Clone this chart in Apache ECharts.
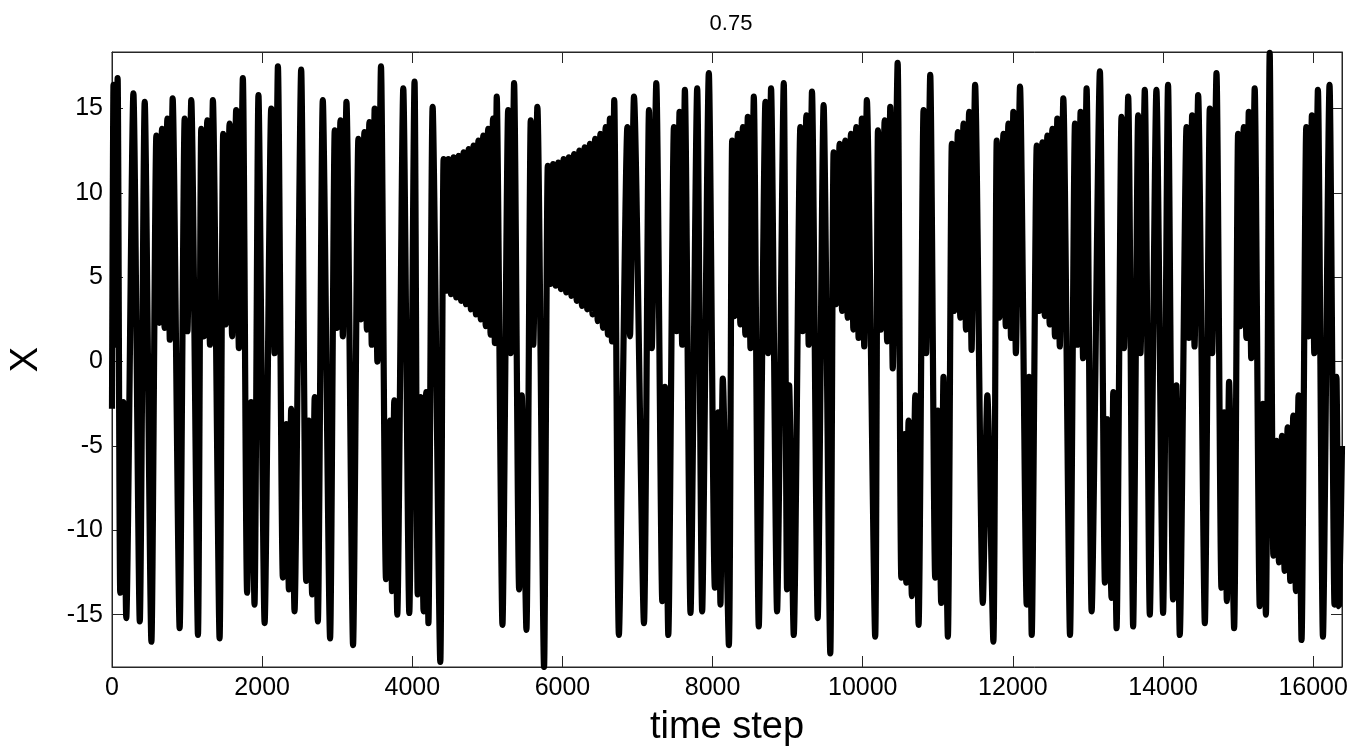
<!DOCTYPE html>
<html>
<head>
<meta charset="utf-8">
<script src="https://cdn.jsdelivr.net/npm/echarts@6.0.0/dist/echarts.min.js"></script>
<style>
  html, body { margin: 0; padding: 0; background: #fff; }
  #chart { width: 1357px; height: 754px; }
</style>
</head>
<body>
<div id="chart"></div>
<script>
// 标题与坐标轴
const chartTitle = '0.75';
const xName = 'time step';
const yName = 'X';
const xMax = 16384;

// 峰谷点：时间步
const timeSteps = [
  0, 20, 45, 75, 110, 150, 190, 285, 370, 436, 525,
  591, 630, 666, 700, 737, 770, 808, 901, 968, 1005, 1056, 1145,
  1189, 1225, 1269, 1305, 1344, 1433, 1481, 1515, 1566, 1600, 1654, 1690,
  1743, 1800, 1853, 1898, 1951, 2033, 2121, 2165, 2210, 2276, 2321, 2356,
  2387, 2431, 2520, 2587, 2622, 2666, 2700, 2742, 2808, 2905, 2967, 3000,
  3043, 3075, 3123, 3211, 3282, 3318, 3362, 3395, 3428, 3460, 3499, 3535,
  3583, 3650, 3703, 3730, 3760, 3800, 3880, 3960, 4030, 4072, 4110, 4150,
  4185, 4215, 4271, 4373,
  4417, 4450, 4480, 4515, 4550, 4585, 4617, 4650, 4683, 4715, 4750, 4780,
  4815, 4847, 4880, 4912, 4945, 4978, 5010, 5043, 5075, 5100, 5125, 5201,
  5277, 5310, 5356, 5423, 5458, 5520, 5578, 5612, 5666, 5755,
  5805, 5840, 5875, 5910, 5945, 5980, 6015, 6050, 6085, 6120, 6155, 6190,
  6225, 6260, 6295, 6330, 6365, 6400, 6435, 6470, 6505, 6540, 6575, 6605,
  6632, 6660, 6690, 6752,
  6865, 6900, 6953, 7086, 7153, 7190, 7250, 7330, 7365, 7410, 7485, 7520,
  7560, 7595, 7631, 7706, 7795, 7861, 7950, 8030, 8074, 8105, 8136, 8217,
  8261, 8295, 8336, 8370, 8403, 8436, 8469, 8505, 8549, 8615, 8704, 8740,
  8779, 8859, 8948, 8992, 9020, 9081, 9169, 9200, 9249, 9280, 9324, 9400,
  9479, 9568, 9612, 9645, 9692, 9725, 9767, 9800, 9843, 9875, 9913, 9945,
  9989, 10020, 10055, 10166, 10203, 10240, 10292, 10325, 10367, 10400, 10465, 10514,
  10558, 10580, 10611, 10655, 10700, 10744, 10810, 10845, 10899, 10965, 11001, 11045,
  11076, 11134, 11187, 11220, 11267, 11300, 11342, 11375, 11417, 11450, 11497, 11600,
  11660, 11740, 11785, 11820, 11874, 11905, 11940, 11975, 12006, 12040, 12095, 12184,
  12215, 12251, 12318, 12350, 12393, 12425, 12459, 12490, 12526, 12560, 12592, 12625,
  12672, 12761, 12827, 12860, 12902, 12935, 12982, 13049, 13159, 13226, 13257, 13314,
  13337, 13381, 13447, 13480, 13536, 13602, 13669, 13700, 13757, 13824, 13912, 14001,
  14067, 14134, 14178, 14223, 14313, 14345, 14388, 14420, 14468, 14557, 14623, 14655,
  14712, 14778, 14814, 14850, 14880, 14947, 15000, 15030, 15075, 15110, 15142, 15175,
  15221, 15288, 15330, 15370, 15421, 15470, 15510, 15545, 15585, 15620, 15660, 15695,
  15735, 15770, 15805, 15845, 15908, 15940, 15983, 16015, 16063, 16130, 16218, 16284,
  16310, 16345, 16384
];

// 峰谷点：X 值
const xValues = [
  -2.8, 16.4, 1.0, 16.8, -13.7, -2.4, -15.2, 15.9, -15.4, 15.4, -16.6,
  13.4, 2.3, 13.8, 2.0, 14.4, 1.3, 15.6, -15.8, 14.4, 1.8, 15.5, -16.2,
  13.8, 1.5, 14.3, 1.0, 15.5, -16.4, 13.5, 2.2, 14.1, 1.5, 14.9, 0.8,
  16.8, -13.7, -2.4, -14.4, 15.8, -15.5, 15.0, 0.5, 17.5, -12.8, -3.7, -13.5,
  -2.8, -14.8, 17.3, -13.0, -3.5, -13.8, -2.1, -15.4, 15.5, -16.4, 13.7, 2.0,
  14.3, 1.5, 15.4, -16.8, 13.2, 2.5, 13.6, 1.9, 14.2, 1.0, 15.0, 0.0,
  17.5, -12.9, -3.5, -13.6, -2.3, -15.0, 16.2, -14.9, 16.6, -13.8, -2.1, -14.8,
  -1.8, -15.5, 15.1, -17.8,
  12.0, 4.2, 12.0, 4.0, 12.1, 3.8, 12.2, 3.6, 12.4, 3.4, 12.6, 3.1,
  12.8, 2.8, 13.1, 2.5, 13.4, 2.1, 13.8, 1.6, 14.4, 1.1, 15.7, -15.6,
  14.9, 0.5, 16.5, -13.5, -2.0, -15.9, 14.3, 1.0, 15.1, -18.1,
  11.6, 4.6, 11.7, 4.5, 11.8, 4.3, 12.0, 4.1, 12.1, 3.9, 12.3, 3.6,
  12.5, 3.3, 12.7, 3.1, 12.9, 2.8, 13.2, 2.4, 13.5, 2.0, 13.9, 1.6,
  14.4, 1.2, 15.5, -16.2,
  13.9, 1.5, 15.7, -15.5, 14.9, 0.8, 16.5, -14.2, -1.5, -16.2, 13.9, 1.8,
  14.8, 1.0, 16.1, -14.9, 16.2, -14.8, 17.1, -13.4, -3.0, -14.4, -1.0, -16.8,
  13.1, 2.7, 13.5, 2.2, 13.9, 1.6, 14.5, 0.8, 15.7, -15.7, 15.4, 0.5,
  16.2, -14.8, 16.5, -13.5, -1.4, -16.2, 13.9, 1.8, 14.6, 1.0, 16.0, -15.2,
  15.2, -17.3, 12.4, 3.4, 12.9, 3.0, 13.1, 2.6, 13.5, 1.9, 13.9, 1.4,
  14.4, 0.9, 15.5, -16.3, 13.7, 1.9, 14.3, 1.2, 15.1, -0.4, 17.7, -12.8,
  -4.3, -13.1, -3.5, -13.9, -2.0, -15.6, 14.9, 0.5, 17.0, -12.8, -2.9, -14.3,
  -0.9, -16.3, 12.9, 3.0, 13.6, 2.6, 14.1, 1.9, 14.8, 0.7, 16.4, -14.3,
  -2.0, -16.6, 13.1, 2.6, 13.5, 2.1, 14.1, 1.4, 14.8, 0.5, 16.3, -14.4,
  -0.9, -16.2, 12.8, 3.0, 13.0, 2.7, 13.4, 2.2, 13.8, 1.5, 14.4, 0.9,
  15.6, -16.2, 14.1, 1.0, 14.8, 0.2, 16.2, -14.8, 17.2, -13.1, -3.4, -14.0,
  -1.8, -15.8, 14.5, 0.8, 15.7, -15.7, 14.6, 0.5, 16.1, -15.0, 16.1, -14.9,
  16.4, -14.1, -1.4, -16.2, 13.9, 1.4, 14.6, 0.9, 15.8, -15.5, 15.0, 0.5,
  17.1, -13.4, -3.0, -14.2, -1.2, -15.8, 13.5, 2.1, 13.9, 1.4, 14.8, 0.2,
  16.2, -14.5, -2.5, -15.0, 18.3, -11.5, -4.7, -11.9, -4.4, -12.4, -3.9, -13.0,
  -3.2, -13.6, -2.0, -16.5, 13.9, 1.5, 14.6, 0.5, 16.1, -16.3, 16.4, -14.4,
  -0.9, -14.5, -5.0
];

const seriesData = timeSteps.map((t, i) => [t, xValues[i]]);

const axisColor = '#262626';
const fontFamily = 'Liberation Sans, Arial, sans-serif';
const labelFont = { fontFamily: fontFamily, fontSize: 25, color: '#000' };

// 坐标轴公共样式（不跟随 0 线）
function frameAxis(extra) {
  return Object.assign({
    type: 'value',
    axisLine: { show: true, onZero: false, lineStyle: { color: axisColor, width: 1 } },
    axisTick: { show: true, inside: true, length: 11, lineStyle: { color: axisColor } },
    splitLine: { show: false }
  }, extra);
}

const chart = echarts.init(document.getElementById('chart'), null, { renderer: 'canvas' });

const option = {
  animation: false,
  backgroundColor: '#fff',
  title: {
    text: chartTitle,
    left: 726,
    top: 8,
    textAlign: 'center',
    textStyle: { fontFamily: fontFamily, fontSize: 22, fontWeight: 'normal', color: '#000' }
  },
  grid: {
    left: 110.5,
    right: 15,
    top: 52,
    bottom: 87,
    show: true,
    borderColor: axisColor,
    borderWidth: 1,
    backgroundColor: '#fff',
    containLabel: false
  },
  xAxis: [
    frameAxis({
      min: 0,
      max: xMax,
      interval: 2000,
      name: xName,
      nameLocation: 'middle',
      nameGap: 42,
      nameTextStyle: { fontFamily: fontFamily, fontSize: 38, color: '#000', verticalAlign: 'top' },
      axisLabel: Object.assign({
        margin: 9,
        showMaxLabel: false,
        formatter: (v) => String(v)
      }, labelFont)
    }),
    frameAxis({
      position: 'top',
      min: 0,
      max: xMax,
      interval: 2000,
      axisLabel: { show: false }
    })
  ],
  yAxis: [
    frameAxis({
      min: -18.1,
      max: 18.35,
      minInterval: 5,
      maxInterval: 5,
      name: yName,
      nameLocation: 'middle',
      nameGap: 66,
      nameRotate: 90,
      nameTextStyle: { fontFamily: fontFamily, fontSize: 38, color: '#000' },
      axisLabel: Object.assign({
        margin: 9,
        showMinLabel: false,
        showMaxLabel: false,
        formatter: (v) => String(v)
      }, labelFont)
    }),
    frameAxis({
      position: 'right',
      min: -18.1,
      max: 18.35,
      minInterval: 5,
      maxInterval: 5,
      axisLabel: { show: false }
    })
  ],
  series: [
    {
      type: 'line',
      xAxisIndex: 0,
      yAxisIndex: 0,
      data: seriesData,
      showSymbol: false,
      symbol: 'none',
      smooth: 0.22,
      clip: true,
      z: 1,
      lineStyle: { color: '#000', width: 6.2, join: 'bevel', cap: 'butt' }
    }
  ]
};

chart.setOption(option);
</script>
</body>
</html>
